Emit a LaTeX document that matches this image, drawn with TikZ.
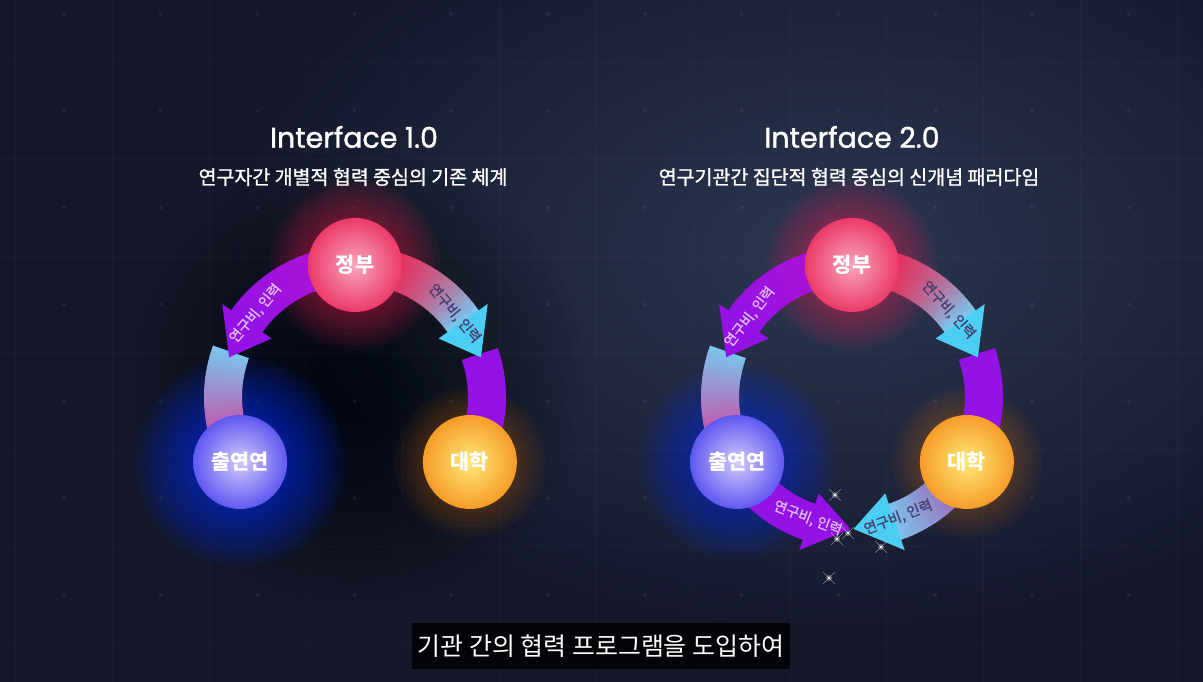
\documentclass[tikz,border=0pt]{standalone}
\usepackage{fontspec}
\newfontfamily\cjk{Noto Sans CJK KR}
\newfontfamily\cjkmed{Noto Sans CJK KR}[FakeBold=1.2]
\newfontfamily\titlefont{Poppins}[FakeBold=1.3]
\usetikzlibrary{arrows}

\definecolor{bgbase}{HTML}{15182B}
\definecolor{bglight}{HTML}{2C3752}
\definecolor{purpleA}{HTML}{9412E6}
\definecolor{magentaA}{HTML}{B812CC}
\definecolor{pinkA}{HTML}{E6208C}
\definecolor{cyanA}{HTML}{7CC2EA}
\definecolor{headcyan}{HTML}{4CCEF4}
\definecolor{redA}{HTML}{F0204E}
\definecolor{plumA}{HTML}{B03CA0}
\definecolor{lilac}{HTML}{DDBDF7}
\definecolor{inkA}{HTML}{463E6E}
\definecolor{govA}{HTML}{F8A6BB}
\definecolor{govB}{HTML}{EC3A69}
\definecolor{instA}{HTML}{D2CBFD}
\definecolor{instB}{HTML}{5F58F0}
\definecolor{uniA}{HTML}{FFE878}
\definecolor{uniB}{HTML}{F69C28}

\begin{document}
\begin{tikzpicture}[x=0.02cm,y=0.02cm]
\tikzstyle{ball} = [circle,shade,minimum size=1.88cm,inner sep=0pt,text=white,font=\cjk\bfseries\fontsize{11.8}{11.8}\selectfont]
\tikzstyle{band} = [line width=0.76cm]
\tikzstyle{flow} = [inner sep=0pt,font=\cjkmed\fontsize{8}{8}\selectfont]
\tikzstyle{title} = [text=white,font=\titlefont\fontsize{16.2}{16.2}\selectfont]
\tikzstyle{subtitle} = [text=white,font=\cjkmed\fontsize{11.1}{11.1}\selectfont]
\tikzstyle{gridline} = [white,opacity=.022,line width=.4pt]
\tikzstyle{glint} = [white,opacity=.45,line width=.3pt]

\pgfdeclarelayer{background}
\pgfsetlayers{background,main}

\useasboundingbox (0,0) rectangle (1203,682);

\begin{pgfonlayer}{background}
\fill[bgbase] (0,0) rectangle (1203,682);
\shade[inner color=bglight,outer color=bgbase] (830,430) ellipse (600 and 380);
\foreach \r in {40,50,...,230}
  \fill[black,opacity=.028] (355,300) circle (\r);
\foreach \i in {0,...,12}
  \draw[gridline] (15.6+\i*96.8,0) -- (15.6+\i*96.8,682);
\foreach \j in {0,...,6}
  \draw[gridline] (0,619.6-\j*96.8) -- (1203,619.6-\j*96.8);
\foreach \i in {0,...,12}
  \foreach \j in {0,...,6}
    \fill[white,opacity=.06] (64+\i*96.8,668-\j*96.8) circle (2);
\end{pgfonlayer}

% Interface 1.0
\node[title] (t1) at (354,545) {Interface 1.0};
\node[subtitle] (s1) at (353,505) {연구자간 개별적 협력 중심의 기존 체계};

\begin{scope}[shift={(355,285)}]
% glows
\foreach \r in {50,55,...,85}
  \fill[redA,opacity=.06] (90:132) circle (\r);
\foreach \r in {50,56,...,104}
  \fill[blue!80!cyan,opacity=.07] (209.5:132) circle (\r);
\foreach \r in {50,55,...,75}
  \fill[orange,opacity=.04] (-29.5:132) circle (\r);
% ring
\foreach \a in {0,...,24}{
  \pgfmathsetmacro{\p}{100-\a*4}
  \draw[band,cyanA!\p!pinkA] (160+\a*2:132) arc (160+\a*2:162.6+\a*2:132);
}
\foreach \a in {0,...,27}{
  \pgfmathsetmacro{\p}{100-\a*100/27}
  \draw[band,magentaA!\p!purpleA] (89+\a*2:132) arc (89+\a*2:91.6+\a*2:132);
}
\foreach \a in {0,...,27}{
  \pgfmathsetmacro{\p}{100-100*(\a/27)*(\a/27)}
  \draw[band,redA!\p!cyanA] (91-\a*2:132) arc (91-\a*2:88.4-\a*2:132);
}
\draw[band,purpleA] (19:132) arc (19:-32:132);
\fill[purpleA] (145:162) -- (162.5:132) -- (145:102) -- cycle;
\fill[headcyan] (35:162) -- (17.5:132) -- (35:102) -- cycle;
\node[flow,text=lilac,rotate=50] (f1) at (140:130) {연구비, 인력};
\node[flow,text=inkA,rotate=-50] (f2) at (40:130) {연구비, 인력};
% actors
\node[ball,inner color=govA,outer color=govB] (gov1) at (90:132) {정부};
\node[ball,inner color=instA,outer color=instB] (inst1) at (209.5:132) {출연연};
\node[ball,inner color=uniA,outer color=uniB] (uni1) at (-29.5:132) {대학};
\end{scope}

% Interface 2.0
\node[title] (t2) at (852,545) {Interface 2.0};
\node[subtitle] (s2) at (849,505) {연구기관간 집단적 협력 중심의 신개념 패러다임};

\begin{scope}[shift={(852,285)}]
\foreach \r in {50,55,...,85}
  \fill[redA,opacity=.06] (90:132) circle (\r);
\foreach \r in {50,56,...,98}
  \fill[blue!80!cyan,opacity=.06] (209.5:132) circle (\r);
\foreach \r in {50,55,...,75}
  \fill[orange,opacity=.04] (-29.5:132) circle (\r);
\foreach \a in {0,...,24}{
  \pgfmathsetmacro{\p}{100-\a*4}
  \draw[band,cyanA!\p!pinkA] (160+\a*2:132) arc (160+\a*2:162.6+\a*2:132);
}
\foreach \a in {0,...,27}{
  \pgfmathsetmacro{\p}{100-\a*100/27}
  \draw[band,magentaA!\p!purpleA] (89+\a*2:132) arc (89+\a*2:91.6+\a*2:132);
}
\foreach \a in {0,...,27}{
  \pgfmathsetmacro{\p}{100-100*(\a/27)*(\a/27)}
  \draw[band,redA!\p!cyanA] (91-\a*2:132) arc (91-\a*2:88.4-\a*2:132);
}
\draw[band,purpleA] (19:132) arc (19:-32:132);
\draw[band,purpleA] (205:132) arc (205:253:132);
\foreach \a in {0,...,21}{
  \pgfmathsetmacro{\p}{100-\a*100/21}
  \draw[band,plumA!\p!cyanA] (332-\a*2:132) arc (332-\a*2:329.4-\a*2:132);
}
\fill[purpleA] (145:162) -- (162.5:132) -- (145:102) -- cycle;
\fill[headcyan] (35:162) -- (17.5:132) -- (35:102) -- cycle;
\fill[purpleA] (251:162) -- (269.3:132) -- (251:102) -- cycle;
\fill[headcyan] (289:162) -- (270.7:132) -- (289:102) -- cycle;
\node[flow,text=lilac,rotate=52] (f3) at (142:130) {연구비, 인력};
\node[flow,text=inkA,rotate=-48] (f4) at (42:130) {연구비, 인력};
\node[flow,text=lilac,rotate=-21] (f5) at (250:129) {연구비, 인력};
\node[flow,text=inkA,rotate=21] (f6) at (291:129) {연구비, 인력};
\node[ball,inner color=govA,outer color=govB] (gov2) at (90:132) {정부};
\node[ball,inner color=instA,outer color=instB] (inst2) at (209.5:132) {출연연};
\node[ball,inner color=uniA,outer color=uniB] (uni2) at (-29.5:132) {대학};
\end{scope}

% sparkles
\foreach \x/\y in {835/187,848/149,837/143,881/135,829/104}{
  \draw[glint] (\x-6,\y-6) -- (\x+6,\y+6);
  \draw[glint] (\x-6,\y+6) -- (\x+6,\y-6);
  \fill[white,opacity=.3] (\x,\y) circle (3);
  \fill[white] (\x,\y) circle (1.3);
}

% caption
\node[fill=black,fill opacity=.82,text opacity=1,text=white,minimum width=7.56cm,minimum height=.92cm,inner sep=0pt,font=\cjk\fontsize{14.2}{14.2}\selectfont] (note) at (601,36) {기관 간의 협력 프로그램을 도입하여};
\end{tikzpicture}
\end{document}
